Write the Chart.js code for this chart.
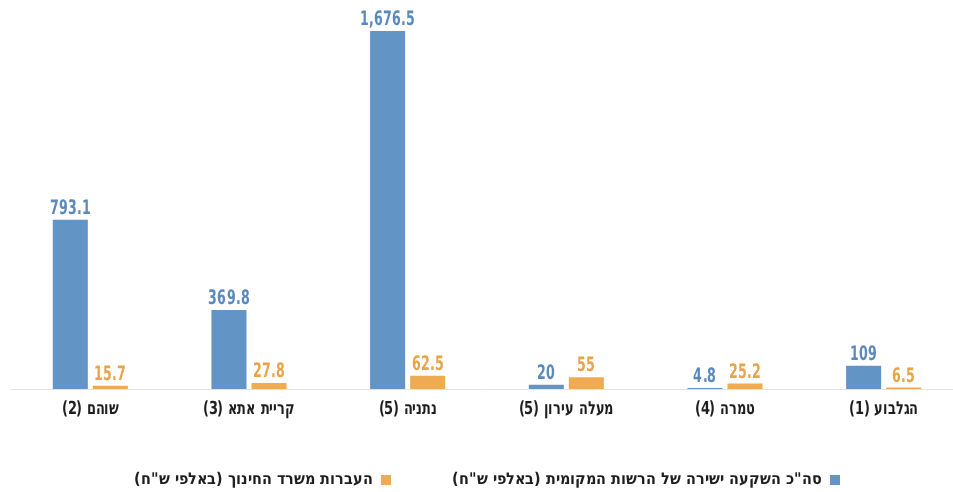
<!DOCTYPE html>
<html lang="he">
<head>
<meta charset="utf-8">
<script src="https://cdn.jsdelivr.net/npm/chart.js@4.4.1/dist/chart.umd.min.js"></script>
<style>
    @font-face {
        font-family: 'CondBold';
        src: local('Liberation Sans Narrow Bold'), local('LiberationSansNarrow-Bold'),
             local('DejaVu Sans Condensed Bold'), local('DejaVuSansCondensed-Bold');
        font-weight: bold;
    }
    html, body { margin: 0; padding: 0; background: #fff; overflow: hidden; }
    #wrap { position: relative; width: 965px; height: 498px; }
</style>
</head>
<body>
<div id="wrap"><canvas id="chart"></canvas></div>
<script>
const categories = ['שוהם (2)', 'קריית אתא (3)', 'נתניה (5)', 'מעלה עירון (5)', 'טמרה (4)', 'הגלבוע (1)'];
const investmentLabel = 'סה"כ השקעה ישירה של הרשות המקומית (באלפי ש"ח)';
const transfersLabel = 'העברות משרד החינוך (באלפי ש"ח)';
const investmentValues = [793.1, 369.8, 1676.5, 20, 4.8, 109];
const transfersValues = [15.7, 27.8, 62.5, 55, 25.2, 6.5];

const FONT = 'CondBold, "DejaVu Sans", sans-serif';
const BLUE = '#6394c6';
const ORANGE = '#efab52';
const BLUE_TEXT = '#5a89bd';
const ORANGE_TEXT = '#e8a449';

// squeezed text, the original uses a very narrow font
function narrowText(ctx, txt, x, y, sx) {
    ctx.save();
    ctx.translate(x, y);
    ctx.scale(sx, 1);
    ctx.fillText(txt, 0, 0);
    ctx.restore();
}

// numbers above bars and category names under the axis
const textPlugin = {
    id: 'textPlugin',
    afterDatasetsDraw(chart) {
        const ctx = chart.ctx;
        ctx.save();
        ctx.textAlign = 'center';
        ctx.textBaseline = 'alphabetic';
        ctx.font = 'bold 20px ' + FONT;
        chart.data.datasets.forEach((ds, i) => {
            ctx.fillStyle = i === 0 ? BLUE_TEXT : ORANGE_TEXT;
            chart.getDatasetMeta(i).data.forEach((bar, j) => {
                narrowText(ctx, ds.data[j].toLocaleString('en-US'), bar.x, bar.y - 6, 0.7);
            });
        });

        const xScale = chart.scales.x;
        ctx.fillStyle = '#1e1e1e';
        ctx.font = 'bold 18px ' + FONT;
        ctx.textBaseline = 'middle';
        ctx.direction = 'rtl';
        categories.forEach((c, i) => {
            narrowText(ctx, c, xScale.getPixelForValue(i), chart.chartArea.bottom + 20, 0.8);
        });
        ctx.restore();
    }
};

document.fonts.load('bold 18px CondBold').catch(() => {}).then(() => {
    new Chart(document.getElementById('chart'), {
        type: 'bar',
        data: {
            labels: categories,
            datasets: [{
                label: investmentLabel,
                data: investmentValues,
                backgroundColor: BLUE,
                barPercentage: 0.875,
                categoryPercentage: 0.505
            }, {
                label: transfersLabel,
                data: transfersValues,
                backgroundColor: ORANGE,
                barPercentage: 0.875,
                categoryPercentage: 0.505
            }]
        },
        options: {
            responsive: true,
            maintainAspectRatio: false,
            animation: false,
            layout: { padding: { left: 11, right: 2, top: 20, bottom: 0 } },
            scales: {
                x: {
                    grid: { display: false, drawTicks: false },
                    border: { display: true, color: '#e3e3e3', width: 1 },
                    ticks: { display: false },
                    afterFit(scale) { scale.height = 22; }
                },
                y: {
                    display: false,
                    min: 0,
                    max: 1728
                }
            },
            plugins: {
                legend: {
                    position: 'bottom',
                    rtl: true,
                    textDirection: 'rtl',
                    labels: {
                        color: '#1e1e1e',
                        font: { family: FONT, size: 16, weight: 'bold' },
                        boxWidth: 10,
                        boxHeight: 10,
                        padding: 61
                    }
                },
                tooltip: { enabled: false }
            }
        },
        plugins: [textPlugin]
    });
});
</script>
</body>
</html>
